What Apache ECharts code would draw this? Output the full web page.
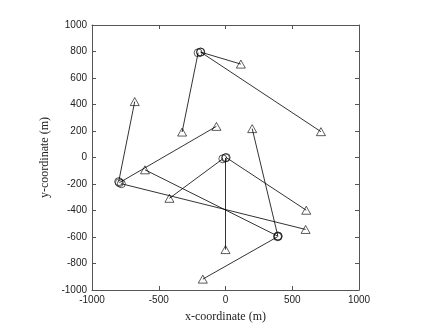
<!DOCTYPE html>
<html>
<head>
<meta charset="utf-8">
<script src="https://cdn.jsdelivr.net/npm/echarts@6/dist/echarts.min.js"></script>
<style>
  html, body { margin: 0; padding: 0; background: #fff; }
  #chart { width: 436px; height: 328px; }
</style>
</head>
<body>
<div id="chart"></div>
<script>
// hub (circle) positions, one per link
const hubX = [-205, -188, -185, -20, 0, 5, -800, -795, -780, 392, 395, 390];
const hubY = [790, 796, 795, -10, -3, 0, -182, -190, -198, -592, -595, -598];
// end (triangle) positions, matching hubs
const endX = [-325, 115, 715, -420, 0, 605, -680, -68, 600, 200, -603, -170];
const endY = [192, 705, 195, -308, -695, -398, 422, 235, -543, 218, -93, -918];

const links = hubX.map((x, i) => ({ coords: [[x, hubY[i]], [endX[i], endY[i]]] }));
const hubs = hubX.map((x, i) => [x, hubY[i]]);
const ends = endX.map((x, i) => [x, endY[i]]);

const boxColor = '#555';
const labelStyle = { color: '#222', fontFamily: 'Liberation Sans', fontSize: 10, formatter: v => String(v) };
const axisBase = {
  type: 'value', min: -1000, max: 1000,
  axisLine: { show: true, onZero: false, lineStyle: { color: boxColor, width: 1 } },
  axisTick: { show: true, inside: true, length: 4, lineStyle: { color: boxColor } },
  splitLine: { show: false }
};

const chart = echarts.init(document.getElementById('chart'));
chart.setOption({
  animation: false,
  backgroundColor: '#fff',
  grid: { left: 92, top: 25, width: 267, height: 267, containLabel: false },
  xAxis: [
    Object.assign({}, axisBase, {
      position: 'bottom', interval: 500,
      axisLabel: Object.assign({ margin: 5 }, labelStyle),
      name: 'x-coordinate (m)', nameLocation: 'middle', nameGap: 21,
      nameTextStyle: { fontFamily: 'Liberation Serif', fontSize: 12, color: '#222' }
    }),
    Object.assign({}, axisBase, { position: 'top', interval: 500, axisLabel: { show: false } })
  ],
  yAxis: [
    Object.assign({}, axisBase, {
      position: 'left', interval: 200,
      axisLabel: Object.assign({ margin: 5 }, labelStyle),
      name: 'y-coordinate (m)', nameLocation: 'middle', nameGap: 28,
      nameTextStyle: { fontFamily: 'Liberation Serif', fontSize: 12, color: '#222' }
    }),
    Object.assign({}, axisBase, { position: 'right', interval: 200, axisLabel: { show: false } })
  ],
  series: [
    {
      type: 'lines', coordinateSystem: 'cartesian2d', silent: true,
      lineStyle: { color: '#000', width: 0.8, opacity: 1 },
      data: links
    },
    {
      type: 'scatter', symbol: 'circle', symbolSize: 8,
      itemStyle: { color: 'transparent', borderColor: '#000', borderWidth: 0.8 },
      data: hubs, z: 3
    },
    {
      type: 'scatter', symbol: 'triangle', symbolSize: [9, 8],
      itemStyle: { color: 'transparent', borderColor: '#000', borderWidth: 0.8 },
      data: ends, z: 3
    }
  ]
});
</script>
</body>
</html>
